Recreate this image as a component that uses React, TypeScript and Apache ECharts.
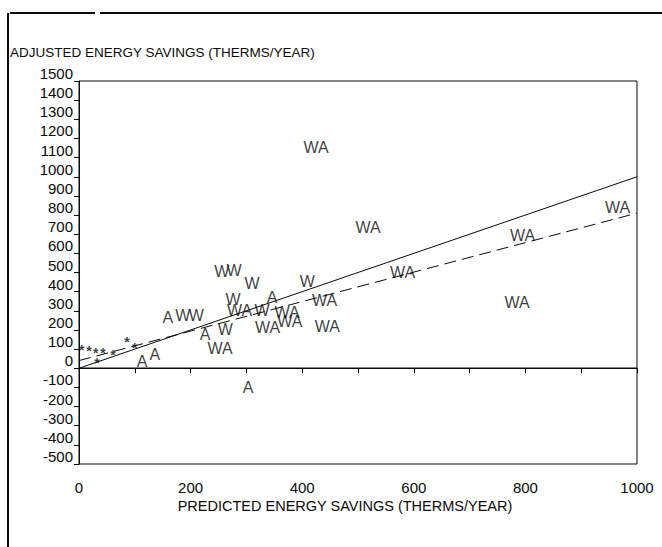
import React, { useEffect, useRef } from "react";
import * as echarts from "echarts";

// Points labelled "WA"
const waPoints: number[][] = [
  [425, 1155], [518, 735], [965, 840], [795, 695], [580, 500], [785, 345],
  [445, 220], [440, 355], [253, 105], [288, 300], [373, 290], [378, 245], [338, 215],
];
// Points labelled "W"
const wPoints: number[][] = [
  [256, 503], [278, 508], [310, 445], [409, 451], [186, 273], [210, 278],
  [262, 200], [276, 357], [328, 299],
];
// Points labelled "A"
const aPoints: number[][] = [
  [159, 263], [113, 33], [136, 70], [303, -98], [226, 174], [346, 372],
];
// Small star markers
const starPoints: number[][] = [
  [5, 96], [18, 91], [30, 80], [43, 80], [32, 28], [61, 70], [86, 137], [100, 106],
];
const identityLine: number[][] = [[0, 0], [1000, 1000]];
const fitLine: number[][] = [[0, 40], [1000, 810]];
const zeroLine: number[][] = [[0, 0], [1000, 0]];
const xTickLabels: number[] = [0, 200, 400, 600, 800, 1000];
const yTitle = "ADJUSTED ENERGY SAVINGS (THERMS/YEAR)";
const xTitle = "PREDICTED ENERGY SAVINGS (THERMS/YEAR)";

const FONT = "Liberation Sans, Arial, sans-serif";
const INK = "#0a0a0a";

function textSeries(name: string, data: number[][], text: string, size: number, offset: number[] = [0, 0], weight: string = "normal") {
  return {
    type: "scatter",
    name,
    data,
    symbol: "circle",
    symbolSize: 1,
    itemStyle: { color: "rgba(0,0,0,0)" },
    label: {
      show: true,
      position: "inside",
      formatter: text,
      fontSize: size,
      fontWeight: weight,
      color: INK,
      fontFamily: FONT,
      offset,
    },
    labelLayout: { hideOverlap: false },
    emphasis: { disabled: true },
    silent: true,
    z: 5,
  };
}

function lineSeries(name: string, data: number[][], type: any, width: number) {
  return {
    type: "line",
    name,
    data,
    symbol: "none",
    lineStyle: { color: INK, width, type },
    emphasis: { disabled: true },
    silent: true,
    z: 3,
  };
}

export default function App() {
  const ref = useRef<HTMLDivElement>(null);
  useEffect(() => {
    if (!ref.current) return;
    const chart = echarts.init(ref.current, undefined, { renderer: "svg" });
    chart.setOption({
      animation: false,
      backgroundColor: "#fff",
      grid: {
        left: 79,
        right: 25,
        top: 81,
        bottom: 83,
        show: true,
        borderColor: INK,
        borderWidth: 1,
        backgroundColor: "transparent",
      },
      xAxis: {
        type: "value",
        min: 0,
        max: 1000,
        interval: 100,
        axisLine: { show: true, lineStyle: { color: INK, width: 1 } },
        axisTick: { show: true, inside: false, length: 5, lineStyle: { color: INK } },
        axisLabel: {
          formatter: (v: number) => (xTickLabels.includes(v) ? String(v) : ""),
          margin: 16,
          fontSize: 15,
          color: INK,
          fontFamily: FONT,
          showMinLabel: true,
          showMaxLabel: true,
        },
        splitLine: { show: false },
      },
      yAxis: {
        type: "value",
        min: -500,
        max: 1500,
        interval: 100,
        axisLine: { show: true, lineStyle: { color: INK, width: 1 } },
        axisTick: { show: true, inside: false, length: 5, lineStyle: { color: INK } },
        axisLabel: {
          formatter: (v: number) => String(v),
          margin: 6,
          fontSize: 15,
          color: INK,
          fontFamily: FONT,
          verticalAlign: "bottom",
          lineHeight: 15,
          showMinLabel: true,
          showMaxLabel: true,
        },
        splitLine: { show: false },
      },
      graphic: [
        { type: "line", shape: { x1: 10, y1: 13, x2: 95, y2: 13 }, style: { stroke: INK, lineWidth: 2 } },
        { type: "line", shape: { x1: 100, y1: 13, x2: 662, y2: 13 }, style: { stroke: INK, lineWidth: 2 } },
        { type: "line", shape: { x1: 8, y1: 13, x2: 8, y2: 547 }, style: { stroke: INK, lineWidth: 2 } },
        {
          type: "text",
          x: 10,
          y: 52,
          style: { text: yTitle, fontSize: 13.5, fontFamily: FONT, fill: INK, textAlign: "left", textVerticalAlign: "middle" },
        },
        {
          type: "text",
          x: 345,
          y: 506,
          style: { text: xTitle, fontSize: 14.5, fontFamily: FONT, fill: INK, textAlign: "center", textVerticalAlign: "middle" },
        },
      ],
      series: [
        lineSeries("identity", identityLine, "solid", 1),
        lineSeries("fit", fitLine, [12, 6], 1),
        lineSeries("zero", zeroLine, "solid", 1.5),
        textSeries("WA", waPoints, "WA", 16),
        textSeries("W", wPoints, "W", 16),
        textSeries("A", aPoints, "A", 16),
        textSeries("star", starPoints, "*", 14, [0, 3], "bold"),
      ],
    });
    return () => chart.dispose();
  }, []);
  return (
    <div
      ref={ref}
      style={{ position: "fixed", left: 0, top: 0, width: 662, height: 547, background: "#fff" }}
    />
  );
}
